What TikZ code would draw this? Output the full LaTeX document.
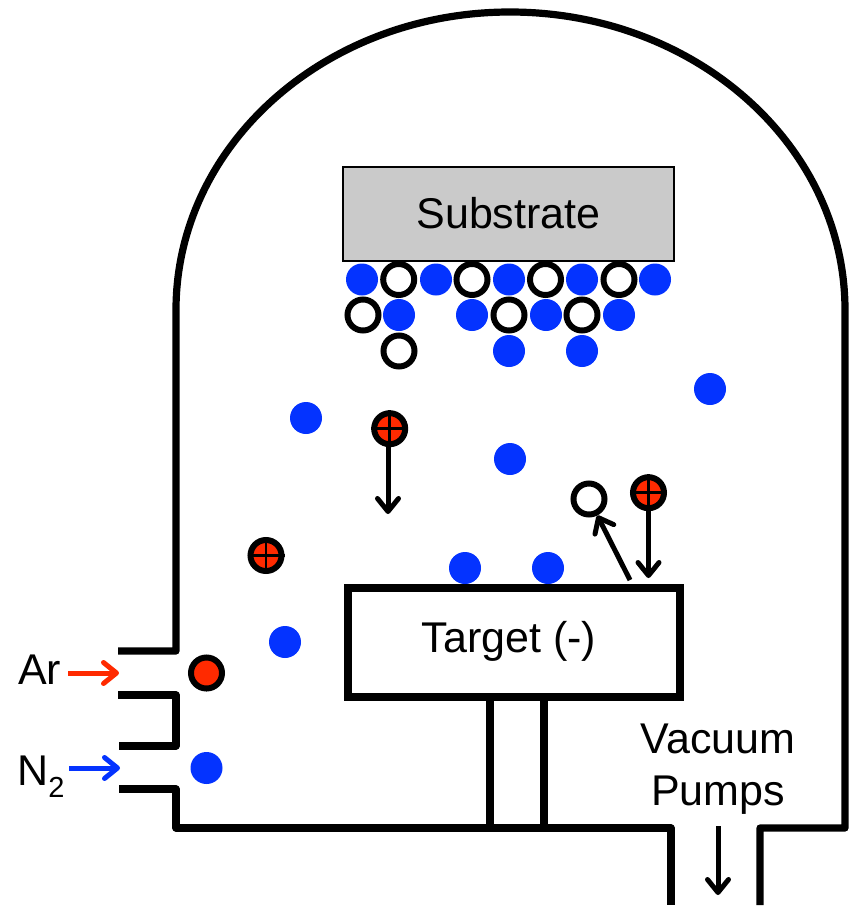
\documentclass[tikz,border=0pt]{standalone}
\usepackage{fontspec}
\setmainfont{Liberation Sans}
\usetikzlibrary{arrows.meta}
\definecolor{atomblue}{HTML}{0433FF}
\definecolor{ionred}{HTML}{FF2A00}
\definecolor{subgray}{HTML}{CACACA}
\tikzset{
  wall/.style={line width=7.2pt,line join=round},
  flowtip/.style={-{Straight Barb[length=13pt,width=21pt,line width=5pt,round]}},
  flow/.style={line width=5pt,flowtip},
  blueatom/.style={circle,fill=atomblue,inner sep=0pt,minimum size=32pt},
  openatom/.style={circle,draw=black,fill=white,line width=6pt,inner sep=0pt,minimum size=31pt},
  redatom/.style={circle,draw=black,fill=ionred,line width=6pt,inner sep=0pt,minimum size=31pt},
  label/.style={font=\fontsize{43}{50}\selectfont,inner sep=0pt,anchor=base},
}
\begin{document}
\begin{tikzpicture}[x=1pt,y=-1pt]
\useasboundingbox (0,0) rectangle (852,906);
% chamber
\draw[wall] (118,651) -- (176,651) -- (176,310)
  .. controls (176,145) and (325.5,12) .. (510,12)
  .. controls (695,12) and (845,145) .. (845,310)
  -- (845,828) -- (760,828) -- (760,905);
\draw[wall] (118,695) -- (176,695) -- (176,746) -- (119,746);
\draw[wall] (119,789) -- (176,789) -- (176,828) -- (671,828) -- (671,905);
% substrate and target
\node[draw=black,fill=subgray,line width=2pt,minimum width=331pt,minimum height=94pt,inner sep=0pt] (substrate) at (508.5,213.5) {};
\node[label] (substratelabel) at (508.5,228) {Substrate};
\node[draw=black,fill=white,line width=7.2pt,minimum width=332pt,minimum height=109pt,inner sep=0pt] (target) at (514,642.5) {};
\node[label] (targetlabel) at (509,652) {Target (-)};
\draw[wall] (490,697) -- (490,828);
\draw[wall] (544,697) -- (544,828);
% deposited atoms
\foreach \n/\x/\y in {a1/362/279.5,a2/436/279.5,a3/509/279.5,a4/582/279.5,a5/655/279.5,
  b1/399/315,b2/472/315,b3/546/315,b4/619/315,c1/509/351,c2/582/351,
  f1/306/418,f2/510/459,f3/710/389,f4/465/568,f5/548/568,f6/285/642,f7/206.5/768}
  \node[blueatom] (\n) at (\x,\y) {};
\foreach \n/\x/\y in {o1/398.7/279.5,o2/472/279.5,o3/545.5/279.5,o4/619/279.5,
  o5/363/315,o6/509/315,o7/582/315,o8/399/351,o9/589/499}
  \node[openatom] (\n) at (\x,\y) {};
% ions
\node[redatom] (arin) at (206.5,673) {};
\foreach \n/\x/\y in {i1/389.7/428.7,i2/648.5/492.7,i3/266/555.5}{
  \node[redatom] (\n) at (\x,\y) {};
  \draw[line width=2.8pt] (\n.north) -- (\n.south);
  \draw[line width=2.8pt] (\n.west) -- (\n.east);
}
% arrows
\coordinate (i1end) at (388,514);
\coordinate (i1start) at (388,444);
\draw[flow] (i1start) -- (i1end);
\coordinate (i2end) at (648.5,578);
\draw[flow] (i2.south) -- (i2end);
\coordinate (ejstart) at (630,580);
\draw[flow] (ejstart) -- (o9);
\coordinate (arstart) at (68,673);
\coordinate (arend) at (119,673);
\draw[flow,ionred] (arstart) -- (arend);
\coordinate (nstart) at (69,768);
\coordinate (nend) at (120,768);
\draw[flow,atomblue] (nstart) -- (nend);
\coordinate (vstart) at (718,826);
\coordinate (vend) at (718,895);
\draw[flow] (vstart) -- (vend);
% labels
\node[label,anchor=base west] (ar) at (18,684) {Ar};
\node[label,anchor=base west] (n2) at (17,785) {N\raisebox{-0.3em}{\fontsize{29}{30}\selectfont 2}};
\node[label] (vacuum) at (718,753) {Vacuum};
\node[label] (pumps) at (718,805) {Pumps};
\end{tikzpicture}
\end{document}
